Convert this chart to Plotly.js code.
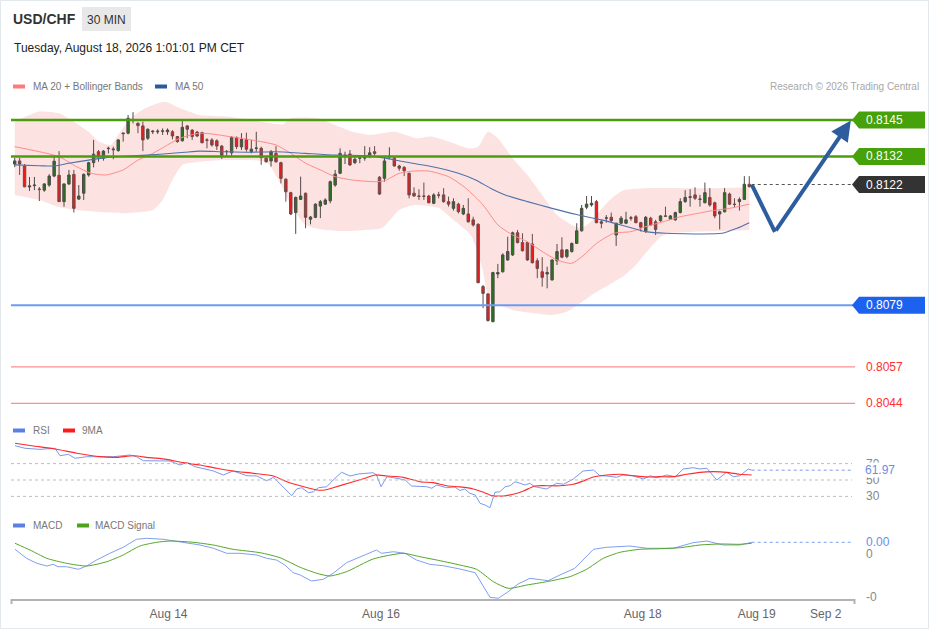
<!DOCTYPE html>
<html><head><meta charset="utf-8">
<script src="https://cdn.plot.ly/plotly-3.0.1.min.js"></script>
<style>html,body{margin:0;padding:0;background:#fff;}#chart{width:929px;height:629px;}</style>
</head><body><div id="chart"></div>
<script>
// ---------- DATA ----------
const openP = [.81293,.81304,.81286,.81211,.81216,.81204,.81200,.81218,.81250,.81253,.81159,.81222,.81256,.81168,.81189,.81254,.81298,.81337,.81314,.81348,.81347,.81341,.81401,.81403,.81449,.81438,.81429,.81385,.81408,.81408,.81410,.81408,.81408,.81391,.81376,.81429,.81414,.81407,.81405,.81379,.81379,.81376,.81357,.81337,.81333,.81388,.81354,.81381,.81337,.81349,.81349,.81314,.81304,.81331,.81298,.81239,.81191,.81120,.81167,.81189,.81096,.81103,.81143,.81150,.81162,.81218,.81260,.81319,.81329,.81298,.81314,.81314,.81319,.81337,.81246,.81242,.81319,.81314,.81286,.81281,.81260,.81189,.81179,.81179,.81179,.81153,.81183,.81183,.81159,.81135,.81150,.81115,.81115,.81094,.81078,.80856,.80830,.80731,.80901,.80909,.80951,.80969,.81048,.81013,.81013,.81008,.80948,.80909,.80901,.80880,.80948,.80987,.80963,.80981,.81010,.81055,.81139,.81147,.81159,.81087,.81100,.81103,.81040,.81082,.81082,.81100,.81105,.81084,.81052,.81100,.81087,.81091,.81108,.81096,.81094,.81120,.81159,.81174,.81183,.81167,.81155,.81174,.81155,.81115,.81123,.81186,.81150,.81159,.81167,.81221];
const highP = [.81315,.81315,.81293,.81247,.81247,.81211,.81225,.81257,.81325,.81339,.81224,.81272,.81272,.81218,.81260,.81301,.81379,.81343,.81343,.81355,.81355,.81381,.81403,.81468,.81478,.81442,.81444,.81420,.81414,.81417,.81420,.81420,.81414,.81393,.81446,.81432,.81417,.81411,.81408,.81385,.81385,.81381,.81361,.81343,.81393,.81391,.81403,.81405,.81379,.81408,.81355,.81319,.81343,.81357,.81301,.81242,.81194,.81177,.81248,.81191,.81108,.81153,.81165,.81171,.81234,.81272,.81349,.81337,.81343,.81319,.81325,.81357,.81353,.81357,.81250,.81319,.81353,.81319,.81290,.81286,.81262,.81210,.81203,.81227,.81183,.81189,.81194,.81207,.81177,.81171,.81155,.81147,.81171,.81105,.81082,.80862,.80832,.80909,.80937,.80975,.81034,.81052,.81058,.81046,.81016,.81044,.80957,.80961,.80927,.80953,.81008,.81032,.80989,.81013,.81082,.81147,.81179,.81179,.81165,.81094,.81111,.81120,.81084,.81108,.81123,.81108,.81111,.81087,.81108,.81105,.81094,.81111,.81141,.81111,.81123,.81171,.81200,.81203,.81210,.81183,.81227,.81207,.81159,.81127,.81207,.81191,.81171,.81174,.81250,.81250];
const lowP = [.81282,.81254,.81210,.81197,.81200,.81161,.81194,.81212,.81246,.81158,.81141,.81218,.81120,.81165,.81165,.81248,.81281,.81301,.81305,.81331,.81310,.81337,.81373,.81399,.81438,.81403,.81339,.81379,.81400,.81400,.81397,.81397,.81381,.81369,.81373,.81385,.81379,.81389,.81367,.81349,.81355,.81343,.81311,.81319,.81319,.81346,.81343,.81337,.81331,.81337,.81290,.81298,.81284,.81298,.81224,.81159,.81111,.81044,.81165,.81064,.81078,.81100,.81100,.81147,.81153,.81212,.81257,.81293,.81286,.81293,.81296,.81305,.81314,.81322,.81183,.81230,.81310,.81284,.81269,.81250,.81171,.81177,.81165,.81165,.81153,.81150,.81171,.81155,.81141,.81127,.81117,.81111,.81084,.81070,.80868,.80779,.80731,.80729,.80886,.80906,.80948,.80965,.81010,.80981,.80948,.80939,.80886,.80856,.80850,.80877,.80933,.80957,.80957,.80977,.81008,.81052,.81132,.81141,.81082,.81064,.81084,.81084,.81001,.81079,.81079,.81091,.81082,.81052,.81048,.81072,.81040,.81087,.81105,.81094,.81091,.81117,.81155,.81141,.81165,.81141,.81153,.81141,.81100,.81060,.81120,.81147,.81139,.81127,.81165,.81210];
const closeP = [.81304,.81293,.81212,.81215,.81218,.81202,.81222,.81250,.81303,.81159,.81222,.81254,.81135,.81179,.81256,.81298,.81328,.81319,.81339,.81349,.81344,.81379,.81403,.81456,.81450,.81430,.81379,.81417,.81410,.81410,.81411,.81414,.81393,.81373,.81424,.81417,.81391,.81393,.81369,.81378,.81361,.81357,.81323,.81338,.81388,.81355,.81381,.81346,.81346,.81350,.81316,.81301,.81337,.81301,.81242,.81194,.81115,.81174,.81179,.81103,.81104,.81150,.81159,.81165,.81230,.81257,.81331,.81325,.81290,.81310,.81315,.81322,.81333,.81331,.81186,.81304,.81321,.81286,.81278,.81269,.81183,.81179,.81178,.81178,.81155,.81183,.81182,.81159,.81150,.81159,.81123,.81135,.81087,.81076,.80870,.80832,.80735,.80906,.80906,.80969,.80981,.81048,.81013,.80984,.80951,.80941,.80921,.80889,.80906,.80951,.80981,.80961,.80987,.81010,.81055,.81135,.81150,.81153,.81084,.81082,.81101,.81091,.81082,.81100,.81094,.81101,.81084,.81068,.81103,.81076,.81060,.81108,.81107,.81108,.81120,.81159,.81174,.81176,.81171,.81168,.81191,.81147,.81108,.81123,.81191,.81150,.81149,.81167,.81221,.81212];

const bandUpX = [1,6,10,13,16,18,20.5,22,24.5,27.5,31.5,34.5,38.5,44.5,51,55.5,57,62.5,66,69.5,73,78,82.5,85.5,89,93,95,97,99,102,105,108,111,114,116,118,120,122.5,124.5,129,136,143,150];
const bandUp = [.81444,.81480,.81474,.81444,.81408,.81373,.81361,.81397,.81456,.81492,.81515,.81492,.81468,.81462,.81444,.81435,.81456,.81456,.81432,.81408,.81397,.81408,.81385,.81391,.81373,.81349,.81355,.81408,.81385,.81314,.81254,.81183,.81111,.81076,.81065,.81090,.81133,.81177,.81200,.81207,.81207,.81207,.81210];
const bandLoX = [1,6,10,13.5,18,23.5,29,31,33,35,38,44,52,54.7,57,60,64,68,72,75.5,79,82,87,89.5,93.5,95.8,97.4,102,106,110,113,116,119,121.5,124.5,127,129,132,134,139,145,150];
const bandLo = [.81183,.81165,.81140,.81129,.81122,.81118,.81129,.81165,.81236,.81290,.81300,.81307,.81300,.81229,.81147,.81076,.81058,.81054,.81058,.81065,.81129,.81147,.81136,.81101,.81040,.80924,.80808,.80773,.80762,.80755,.80766,.80801,.80837,.80862,.80894,.80933,.80976,.81033,.81047,.81052,.81054,.81058];
const ma20X = [1,6,10,13.5,16.5,19.5,23,26,29,32,34.5,38.5,41.5,44.5,49,54,57,60,63,66,69.5,74,76,79,82,85,89,92.5,96,99,102,105,108,111,114,116.5,119,122.5,126,129,132.5,136,139.5,142.5,146,150];
const ma20 = [.81355,.81337,.81319,.81284,.81260,.81254,.81272,.81307,.81331,.81361,.81385,.81403,.81399,.81391,.81379,.81361,.81331,.81296,.81272,.81248,.81236,.81230,.81233,.81260,.81268,.81268,.81248,.81207,.81147,.81076,.81040,.81016,.80981,.80951,.80939,.80969,.81010,.81046,.81052,.81070,.81087,.81105,.81117,.81127,.81135,.81150];
const ma50X = [1,6,9,12,16,19.5,25,30.5,35.5,38.5,43,48.5,54,60,66,72.5,75.5,80,85.5,91,94.5,97.5,100.5,105,110,115,120,124,129,133,144.5,147.5,150];
const ma50 = [.81290,.81287,.81286,.81296,.81307,.81316,.81322,.81328,.81335,.81339,.81337,.81335,.81337,.81331,.81325,.81323,.81316,.81301,.81284,.81260,.81236,.81207,.81183,.81159,.81135,.81113,.81094,.81076,.81052,.81046,.81046,.81064,.81084];

const rsiX = [1.06,3.09,6.13,9.17,10.19,11.87,13.23,15.6,18.3,21.0,24.4,25.7,27.1,29.8,32.5,34.5,35.9,37.6,39.3,41.3,43.3,45.3,46.7,48.1,50.1,52.1,53.5,55.5,57.2,58.2,59.2,60.6,61.6,62.6,64.3,65.6,67.3,69.0,70.7,73.7,74.4,75.3,76.5,78.5,80.2,81.5,84.6,85.6,86.6,88.6,90.3,91.3,92.3,93.3,94.4,95.4,96.4,97.4,98.4,99.4,100.5,101.5,102.5,103.5,104.5,105.5,106.5,108.9,110.9,112.3,114.3,116.3,118.4,119.7,121.1,123.1,124.4,126.5,128.5,129.9,131.2,133.3,135.0,136.6,138.6,140.0,141.4,143.4,145.4,146.8,148.1,149.8,150.5];
const rsi = [91.8,88.7,87.4,88.7,79.6,81.3,76.5,78.4,78.4,78.4,80.5,78.4,73.5,73.2,73.2,68.3,71.1,66.2,63.4,61.0,56.1,61.0,58.2,55.2,54.9,49.1,53.3,41.8,30.9,39.0,40.6,34.5,35.7,40.6,41.8,50.0,59.4,54.9,57.3,58.9,56.1,41.8,54.0,52.1,50.0,42.7,41.8,39.9,43.9,40.6,41.5,37.2,39.0,33.8,31.7,21.6,19.5,16.2,35.0,35.7,41.8,43.0,47.9,46.0,43.9,46.0,41.8,39.0,46.0,44.8,51.2,61.0,62.2,55.2,54.9,53.3,56.1,54.9,51.2,55.2,52.8,56.1,54.0,63.4,65.0,63.4,64.3,50.0,59.4,54.0,55.2,63.4,61.97];
const rsiMaX = [1.06,4.8,9.2,13.6,18.3,21.7,25.1,28.4,31.8,35.2,38.6,42.0,45.3,49.4,53.5,56.2,58.9,62.3,63.9,65.6,69.0,72.4,74.1,76.5,79.8,83.2,85.9,88.6,91.3,94.0,96.1,97.8,100.1,102.1,104.2,106.5,108.9,111.6,114.3,116.3,118.4,121.1,123.8,126.5,129.2,131.9,134.6,137.3,140.0,142.7,145.4,148.1,150.5];
const rsiMa = [94.8,91.5,87.8,82.6,78.4,77.7,79.6,77.2,75.2,71.1,68.3,64.3,61.0,58.2,54.9,47.9,43.0,37.8,37.8,40.6,46.7,52.8,56.1,54.9,53.3,47.9,46.7,43.0,41.5,39.0,35.0,30.9,30.5,32.6,36.6,42.7,43.0,43.0,44.8,48.8,53.7,56.1,57.0,55.2,53.7,54.0,54.0,57.0,59.4,60.1,59.4,57.0,56.1];
const rsiLevels = [70, 50, 30];

// MACD values in thousandths
const macdX = [1.06,3.4,5.5,7.5,8.8,9.8,11.5,13.9,15.6,17.6,20.3,23.0,25.7,27.8,31.1,34.5,38.6,41.3,44.0,46.7,50.1,52.1,54.1,55.8,57.5,58.9,61.2,63.6,65.6,68.3,71.0,74.4,75.4,77.8,80.2,82.5,85.2,87.9,91.3,94.4,97.4,99.1,101.1,103.1,105.5,109.2,111.6,114.6,118.4,121.1,125.8,129.2,134.6,138.6,141.4,144.7,148.1,150.5];
const macdMilli = [0.109,-0.100,-0.216,-0.279,-0.240,-0.295,-0.295,-0.356,-0.279,-0.140,0.016,0.156,0.342,0.365,0.342,0.286,0.209,0.133,0.016,0.016,-0.023,-0.100,-0.140,-0.256,-0.435,-0.488,-0.628,-0.588,-0.449,-0.202,-0.063,0.093,0.016,0.053,0.016,-0.140,-0.240,-0.272,-0.349,-0.435,-1.007,-1.030,-0.877,-0.698,-0.565,-0.621,-0.488,-0.333,0.109,0.156,0.186,0.133,0.133,0.263,0.302,0.209,0.209,0.272];
const sigX = [1.06,4.1,7.5,11.5,15.6,19.7,23.0,26.4,29.8,32.5,37.2,41.3,45.3,50.8,54.8,58.9,62.3,64.9,68.3,73.7,79.8,83.2,87.3,91.3,94.7,98.1,101.1,104.9,108.9,113.6,117.0,120.4,123.8,127.8,131.9,136.0,140.0,144.1,148.1,150.5];
const sigMilli = [0.249,0.093,-0.100,-0.216,-0.279,-0.179,-0.023,0.186,0.272,0.302,0.272,0.209,0.109,0.030,-0.086,-0.309,-0.449,-0.512,-0.412,-0.116,0.016,-0.063,-0.156,-0.256,-0.356,-0.644,-0.798,-0.721,-0.644,-0.528,-0.356,-0.100,0.040,0.109,0.123,0.147,0.209,0.233,0.226,0.249];
const macdTickVals = [0, -0.001];
const macdTickText = ['0', '-0'];

const resistances = [0.8145, 0.8132];
const lastPrice = 0.8122;
const pivot = 0.8079;
const supports = [0.8057, 0.8044];
const forecastX = [150.5, 155.2, 170.6];
const forecastY = [0.8122, 0.81051, 0.81448];

const tickVals = [32.2, 75.3, 128.4, 151.5, 165.5];
const tickText = ['Aug 14', 'Aug 16', 'Aug 18', 'Aug 19', 'Sep 2'];

// ---------- LAYOUT HELPERS ----------
const FONT = 'Liberation Sans, Arial, sans-serif';
const W = 929, H = 629, L = 11, R = 855, T = 95, B = 599;
const px2x = px => (px - L) / (R - L);
const py2y = py => (B - py) / (B - T);
const priceAt = py => 0.8145 - (py - 120) / 28050;
const rsiAt = py => 50 + (480 - py) * 1.2195;
const macdAt = py => (554 - py) / 43 * 0.001;
const idxAt = px => (px - 9.77) / 4.93;
const PX = 1 / 28050;

const idx = closeP.map((_, i) => i + 1);
const macd = macdMilli.map(v => v / 1000);
const sig = sigMilli.map(v => v / 1000);

const traces = [
  {x: bandUpX, y: bandUp, type: 'scatter', mode: 'lines', line: {width: 0, shape: 'spline', smoothing: 0.6}, hoverinfo: 'skip', showlegend: false},
  {x: bandLoX, y: bandLo, type: 'scatter', mode: 'lines', line: {width: 0, shape: 'spline', smoothing: 0.6}, fill: 'tonexty', fillcolor: '#fde2e2', hoverinfo: 'skip', showlegend: false},
  {type: 'candlestick', x: idx, open: openP, high: highP, low: lowP, close: closeP, yaxis: 'y4',
   increasing: {line: {color: '#4f4a4a', width: 1}, fillcolor: '#26761b'},
   decreasing: {line: {color: '#6b4a4a', width: 1}, fillcolor: '#ee1b1b'},
   whiskerwidth: 0, hoverinfo: 'skip', showlegend: false},
  {x: ma20X, y: ma20, yaxis: 'y4', type: 'scatter', mode: 'lines', line: {color: '#ff8a8a', width: 1, shape: 'spline', smoothing: 0.6}, hoverinfo: 'skip', showlegend: false},
  {x: ma50X, y: ma50, yaxis: 'y4', type: 'scatter', mode: 'lines', line: {color: '#4f72aa', width: 1.1, shape: 'spline', smoothing: 0.6}, hoverinfo: 'skip', showlegend: false},
  {x: forecastX.slice(0, 2), y: forecastY.slice(0, 2), yaxis: 'y4', type: 'scatter', mode: 'lines', line: {color: '#2d5d9f', width: 4}, hoverinfo: 'skip', showlegend: false},
  {x: rsiX, y: rsi, yaxis: 'y2', type: 'scatter', mode: 'lines', line: {color: '#7a98ec', width: 1}, hoverinfo: 'skip', showlegend: false},
  {x: rsiMaX, y: rsiMa, yaxis: 'y2', type: 'scatter', mode: 'lines', line: {color: '#ff2b2b', width: 1.2, shape: 'spline', smoothing: 0.6}, hoverinfo: 'skip', showlegend: false},
  {x: macdX, y: macd, yaxis: 'y3', type: 'scatter', mode: 'lines', line: {color: '#809ff0', width: 1}, hoverinfo: 'skip', showlegend: false},
  {x: sigX, y: sig, yaxis: 'y3', type: 'scatter', mode: 'lines', line: {color: '#55a625', width: 1, shape: 'spline', smoothing: 0.6}, hoverinfo: 'skip', showlegend: false}
];

const shapes = [];
const annotations = [];
const txt = (text, px, py, o = {}) => annotations.push(Object.assign({
  text, x: px2x(px), y: py2y(py), xref: 'paper', yref: 'paper', xanchor: 'left', yanchor: 'middle',
  showarrow: false, font: {family: FONT, size: 10, color: '#777'}}, o));
const rectPx = (x0, y0, x1, y1, color) => shapes.push({type: 'rect', xref: 'paper', yref: 'paper',
  x0: px2x(x0), x1: px2x(x1), y0: py2y(y1), y1: py2y(y0), fillcolor: color, line: {width: 0}, layer: 'above'});

// border
shapes.push({type: 'rect', xref: 'paper', yref: 'paper', x0: px2x(0.5), x1: px2x(928.5), y0: py2y(628.5), y1: py2y(0.5), line: {color: '#e3e8ec', width: 1}, layer: 'below'});

// header
txt('<b>USD/CHF</b>', 11, 19, {font: {family: FONT, size: 14, color: '#333'}});
rectPx(82, 7, 131, 31, '#e8e8e8');
txt('30 MIN', 106.5, 19.5, {xanchor: 'center', font: {family: FONT, size: 12, color: '#333'}});
txt('Tuesday, August 18, 2026 1:01:01 PM CET', 12, 48, {font: {family: FONT, size: 12, color: '#222'}});

// legends
rectPx(13, 84.5, 25, 88.5, '#ff7b7b');
txt('MA 20 + Bollinger Bands', 31, 86.5);
rectPx(155, 84.5, 167, 88.5, '#2f5a9a');
txt('MA 50', 173, 86.5);
txt('Research © 2026 Trading Central', 921, 86.5, {xanchor: 'right', font: {family: FONT, size: 10, color: '#a8a8a8'}});
rectPx(13, 428.5, 25, 432.5, '#5a80e2');
txt('RSI', 31, 430.5);
rectPx(63, 428.5, 75, 432.5, '#ff1a1a');
txt('9MA', 80, 430.5);
rectPx(13, 523.5, 25, 527.5, '#5a80e2');
txt('MACD', 31, 525.5);
rectPx(77, 523.5, 89, 527.5, '#4ca41a');
txt('MACD Signal', 93, 525.5);

// level lines and tags
const hline = (p, color, width, endPx, dash) => shapes.push({type: 'line', xref: 'paper', yref: 'y',
  x0: 0, x1: px2x(endPx), y0: p, y1: p, line: {color, width, dash: dash || 'solid'}});
const tag = (p, color, label) => {
  const h = 8.5 * PX;
  shapes.push({type: 'path', xref: 'paper', yref: 'y', fillcolor: color, line: {width: 0},
    path: `M ${px2x(852)},${p} L ${px2x(859)},${p + h} L ${px2x(925)},${p + h} L ${px2x(925)},${p - h} L ${px2x(859)},${p - h} Z`});
  annotations.push({text: label, x: px2x(864), y: p, xref: 'paper', yref: 'y', xanchor: 'left', yanchor: 'middle',
    showarrow: false, font: {family: FONT, size: 12, color: '#fff'}});
};
resistances.forEach(p => { hline(p, '#4c9d0e', 2.5, 853); tag(p, '#46a10a', p.toFixed(4)); });
hline(pivot, '#6c9cf2', 2, 853); tag(pivot, '#1c62ef', pivot.toFixed(4));
supports.forEach(p => {
  hline(p, '#ff8e8e', 1.2, 855);
  annotations.push({text: p.toFixed(4), x: px2x(864), y: p, xref: 'paper', yref: 'y', xanchor: 'left', yanchor: 'middle',
    showarrow: false, font: {family: FONT, size: 12, color: '#ff2f2f'}});
});
shapes.push({type: 'line', xref: 'x', yref: 'y', x0: forecastX[0], x1: idxAt(852), y0: lastPrice, y1: lastPrice,
  line: {color: '#555', width: 1, dash: 'dot'}});
tag(lastPrice, '#333333', lastPrice.toFixed(4));

// forecast arrow
annotations.push({x: forecastX[2], y: forecastY[2], ax: forecastX[1], ay: forecastY[1], xref: 'x', yref: 'y', axref: 'x', ayref: 'y',
  showarrow: true, arrowhead: 2, arrowsize: 1, arrowwidth: 4, arrowcolor: '#2d5d9f', text: ''});

// RSI guides and labels
rsiLevels.forEach(v => {
  shapes.push({type: 'line', xref: 'paper', yref: 'y2', x0: 0, x1: px2x(852), y0: v, y1: v, line: {color: '#bdbdbd', width: 1, dash: 'dot'}});
  annotations.push({text: String(v), x: px2x(864), y: v, xref: 'paper', yref: 'y2', xanchor: 'left', yanchor: 'middle',
    showarrow: false, font: {family: FONT, size: 12, color: '#888'}});
});
const lastRsi = rsi[rsi.length - 1];
shapes.push({type: 'line', xref: 'x', yref: 'y2', x0: rsiX[rsiX.length - 1], x1: idxAt(852), y0: lastRsi, y1: lastRsi, line: {color: '#7a98ec', width: 1, dash: 'dot'}});
annotations.push({text: lastRsi.toFixed(2), x: px2x(864), y: lastRsi, xref: 'paper', yref: 'y2', xanchor: 'left', yanchor: 'middle',
  showarrow: false, bgcolor: '#ffffff', borderpad: 0, font: {family: FONT, size: 12, color: '#6b8de8'}});

// MACD labels
macdTickVals.forEach((v, i) => annotations.push({text: macdTickText[i], x: px2x(864), y: v, xref: 'paper', yref: 'y3', xanchor: 'left', yanchor: 'middle',
  showarrow: false, font: {family: FONT, size: 12, color: '#888'}}));
const lastMacd = macd[macd.length - 1];
shapes.push({type: 'line', xref: 'x', yref: 'y3', x0: macdX[macdX.length - 1], x1: idxAt(852), y0: lastMacd, y1: lastMacd, line: {color: '#809ff0', width: 1, dash: 'dot'}});
annotations.push({text: lastMacd.toFixed(2), x: px2x(864), y: lastMacd, xref: 'paper', yref: 'y3', xanchor: 'left', yanchor: 'middle',
  showarrow: false, font: {family: FONT, size: 12, color: '#6b8de8'}});

// axis end ticks
[11.5, 854.5].forEach(px => shapes.push({type: 'line', xref: 'paper', yref: 'paper', x0: px2x(px), x1: px2x(px), y0: py2y(599), y1: py2y(604), line: {color: '#b3b3b3', width: 2}}));

const mainRange = [priceAt(415), priceAt(95)];
const layout = {
  width: W, height: H, margin: {l: L, r: W - R, t: T, b: H - B},
  paper_bgcolor: '#fff', plot_bgcolor: 'rgba(0,0,0,0)', showlegend: false,
  font: {family: FONT},
  xaxis: {range: [idxAt(L), idxAt(R)], domain: [0, 1], anchor: 'y3', showgrid: false, zeroline: false,
    showline: true, linecolor: '#b3b3b3', linewidth: 2, ticks: '', tickvals: tickVals, ticktext: tickText,
    ticklabelstandoff: 3, tickfont: {family: FONT, size: 12, color: '#666'}, rangeslider: {visible: false}, fixedrange: true},
  yaxis: {domain: [py2y(415), 1], range: mainRange, visible: false, fixedrange: true},
  yaxis4: {overlaying: 'y', anchor: 'x', range: mainRange, visible: false, fixedrange: true},
  yaxis2: {domain: [py2y(510), py2y(440)], range: [rsiAt(510), rsiAt(440)], anchor: 'x', visible: false, fixedrange: true},
  yaxis3: {domain: [0, py2y(530)], range: [macdAt(599), macdAt(530)], anchor: 'x', visible: false, fixedrange: true},
  shapes, annotations
};

Plotly.newPlot('chart', traces, layout, {staticPlot: true, displayModeBar: false});
</script>
</body></html>
